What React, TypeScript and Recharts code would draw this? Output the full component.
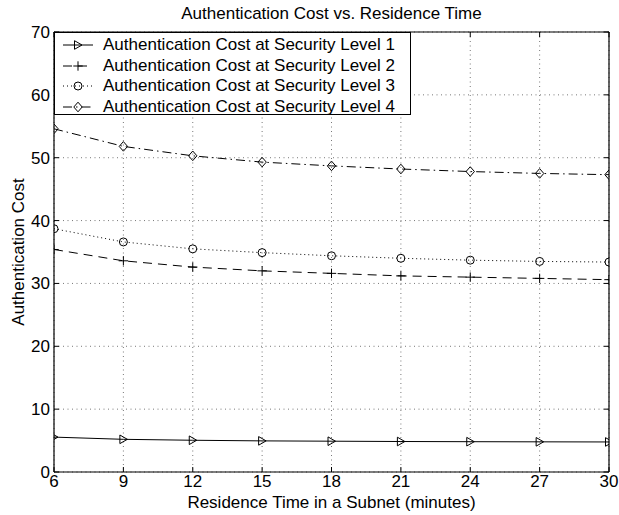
import React from 'react';
import { LineChart, Line, XAxis, YAxis, CartesianGrid } from 'recharts';

const residenceTimes = [6, 9, 12, 15, 18, 21, 24, 27, 30];
const level1 = [5.55, 5.2, 5.05, 4.95, 4.9, 4.85, 4.82, 4.8, 4.78];
const level2 = [35.4, 33.6, 32.6, 32.0, 31.6, 31.2, 31.0, 30.8, 30.6];
const level3 = [38.7, 36.6, 35.5, 34.9, 34.4, 34.0, 33.7, 33.5, 33.4];
const level4 = [54.6, 51.8, 50.3, 49.3, 48.7, 48.2, 47.8, 47.5, 47.3];
const xTicks = [6, 9, 12, 15, 18, 21, 24, 27, 30];
const yTicks = [0, 10, 20, 30, 40, 50, 60, 70];
const seriesNames = [
  'Authentication Cost at Security Level 1',
  'Authentication Cost at Security Level 2',
  'Authentication Cost at Security Level 3',
  'Authentication Cost at Security Level 4',
];
const titleText = 'Authentication Cost vs. Residence Time';
const xLabel = 'Residence Time in a Subnet (minutes)';
const yLabel = 'Authentication Cost';

const data = residenceTimes.map((t, i) => ({
  t,
  l1: level1[i],
  l2: level2[i],
  l3: level3[i],
  l4: level4[i],
}));

const FONT = '"Liberation Sans", Arial, Helvetica, sans-serif';
const FS = 17;
const W = 619;
const H = 515;
const PL = 54;
const PR = 609;
const PT = 32;
const PB = 472;

type Shape = 'tri' | 'plus' | 'circle' | 'diamond';

function Marker({ shape, cx, cy }: { shape: Shape; cx: number; cy: number }) {
  if (shape === 'tri') {
    return (
      <polygon
        points={`${cx - 3.5},${cy - 4.3} ${cx + 4},${cy} ${cx - 3.5},${cy + 4.3}`}
        fill="none"
        stroke="#000"
        strokeWidth={1}
      />
    );
  }
  if (shape === 'plus') {
    return (
      <g stroke="#000" strokeWidth={1}>
        <line x1={cx - 4.7} y1={cy} x2={cx + 4.7} y2={cy} />
        <line x1={cx} y1={cy - 4.7} x2={cx} y2={cy + 4.7} />
      </g>
    );
  }
  if (shape === 'circle') {
    return <circle cx={cx} cy={cy} r={4} fill="none" stroke="#000" strokeWidth={1} />;
  }
  return (
    <polygon
      points={`${cx},${cy - 4.8} ${cx + 4.2},${cy} ${cx},${cy + 4.8} ${cx - 4.2},${cy}`}
      fill="none"
      stroke="#000"
      strokeWidth={1}
    />
  );
}

const seriesDefs: { key: string; shape: Shape; dash?: string }[] = [
  { key: 'l1', shape: 'tri' },
  { key: 'l2', shape: 'plus', dash: '9 6' },
  { key: 'l3', shape: 'circle', dash: '1 3' },
  { key: 'l4', shape: 'diamond', dash: '9 4 1.5 4' },
];

const makeDot = (shape: Shape) => (p: any) => {
  if (p.cx == null || p.cy == null) return <g key={`e-${p.index}`} />;
  return <Marker key={`${shape}-${p.index}`} shape={shape} cx={p.cx} cy={p.cy} />;
};

const noLabel = () => '';

export default function App() {
  return (
    <div style={{ position: 'absolute', left: 0, top: 0, width: W, height: H, background: '#fff', fontFamily: FONT }}>
      <LineChart
        width={W}
        height={H}
        data={data}
        margin={{ top: PT, right: W - PR, bottom: 0, left: 0 }}
      >
        <CartesianGrid stroke="#555" strokeDasharray="1 3.5" strokeWidth={0.8} />
        <XAxis
          dataKey="t"
          type="number"
          domain={[6, 30]}
          ticks={xTicks}
          height={H - PB}
          axisLine={{ stroke: '#000', strokeWidth: 1.2 }}
          tickLine={false}
          tickSize={0}
          tick={{ fill: '#000', fontSize: FS, fontFamily: FONT }}
          tickMargin={3}
          interval={0}
          allowDataOverflow
        />
        <XAxis
          xAxisId="topx"
          orientation="top"
          dataKey="t"
          type="number"
          domain={[6, 30]}
          ticks={xTicks}
          mirror
          axisLine={{ stroke: '#000', strokeWidth: 1.2 }}
          tickLine={{ stroke: '#000' }}
          tickSize={5}
          tickFormatter={noLabel}
          interval={0}
          allowDataOverflow
        />
        <XAxis
          xAxisId="inbx"
          orientation="bottom"
          dataKey="t"
          type="number"
          domain={[6, 30]}
          ticks={xTicks}
          mirror
          axisLine={false}
          tickLine={{ stroke: '#000' }}
          tickSize={5}
          tickFormatter={noLabel}
          interval={0}
          allowDataOverflow
        />
        <YAxis
          type="number"
          domain={[0, 70]}
          ticks={yTicks}
          width={PL}
          axisLine={{ stroke: '#000', strokeWidth: 1.2 }}
          tickLine={false}
          tickSize={0}
          tick={{ fill: '#000', fontSize: FS, fontFamily: FONT }}
          tickMargin={4}
          interval={0}
          allowDataOverflow
        />
        <YAxis
          yAxisId="righty"
          orientation="right"
          type="number"
          domain={[0, 70]}
          ticks={yTicks}
          mirror
          axisLine={{ stroke: '#000', strokeWidth: 1.2 }}
          tickLine={{ stroke: '#000' }}
          tickSize={5}
          tickFormatter={noLabel}
          interval={0}
          allowDataOverflow
        />
        <YAxis
          yAxisId="inly"
          orientation="left"
          type="number"
          domain={[0, 70]}
          ticks={yTicks}
          mirror
          axisLine={false}
          tickLine={{ stroke: '#000' }}
          tickSize={5}
          tickFormatter={noLabel}
          interval={0}
          allowDataOverflow
        />
        {seriesDefs.map((s, i) => (
          <Line
            key={s.key}
            dataKey={s.key}
            name={seriesNames[i]}
            type="linear"
            stroke="#000"
            strokeWidth={1}
            strokeDasharray={s.dash}
            dot={makeDot(s.shape)}
            activeDot={false}
            isAnimationActive={false}
          />
        ))}
        <text x={(PL + PR) / 2} y={19} textAnchor="middle" fontSize={FS} fontFamily={FONT} fill="#000">
          {titleText}
        </text>
        <text x={(PL + PR) / 2} y={508} textAnchor="middle" fontSize={FS} fontFamily={FONT} fill="#000">
          {xLabel}
        </text>
        <text
          x={24}
          y={(PT + PB) / 2}
          textAnchor="middle"
          fontSize={FS}
          fontFamily={FONT}
          fill="#000"
          transform={`rotate(-90 24 ${(PT + PB) / 2})`}
        >
          {yLabel}
        </text>
      </LineChart>
      <div
        style={{
          position: 'absolute',
          left: PL,
          top: PT,
          width: 357,
          height: 83,
          border: '1.2px solid #000',
          background: '#fff',
          boxSizing: 'border-box',
          paddingTop: 2,
        }}
      >
        {seriesDefs.map((s, i) => (
          <div key={s.key} style={{ display: 'flex', alignItems: 'center', height: 20.5 }}>
            <svg width={48} height={14} style={{ flex: 'none' }}>
              <line x1={8} y1={7} x2={38} y2={7} stroke="#000" strokeWidth={1} strokeDasharray={s.dash} />
              <Marker shape={s.shape} cx={23} cy={7} />
            </svg>
            <span style={{ fontSize: FS, fontFamily: FONT, color: '#000', whiteSpace: 'nowrap', lineHeight: '20px' }}>
              {seriesNames[i]}
            </span>
          </div>
        ))}
      </div>
    </div>
  );
}
